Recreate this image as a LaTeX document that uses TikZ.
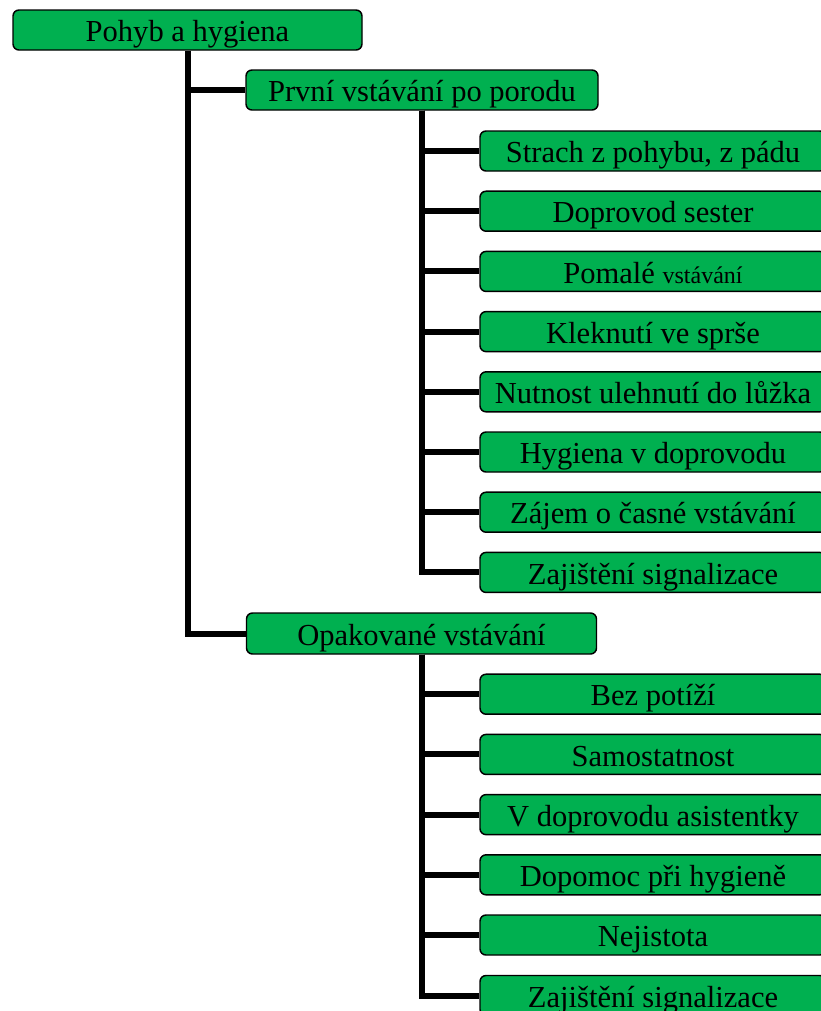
\documentclass[tikz,border=0pt]{standalone}
\usepackage{fontspec}
\setmainfont{Liberation Serif}
\definecolor{boxgreen}{HTML}{00B050}
\begin{document}
\begin{tikzpicture}[x=0.75pt,y=-0.75pt,
  box/.style={draw=black, line width=1.1pt, fill=boxgreen, rounded corners=4.5pt,
    minimum height=30pt, inner sep=0pt, text height=18pt, text depth=0.5pt,
    font=\fontsize{22.9}{27}\selectfont, text=black},
  conn/.style={draw=black, line width=4.5pt}]
\useasboundingbox (0,0) rectangle (821,1011);
\clip (0,0) rectangle (821,1011);
\node[box, minimum width=261.75pt] (root) at (187.5,30) {Pohyb a hygiena};
\node[box, minimum width=264pt] (p1) at (422,90) {První vstávání po porodu};
\node[box, minimum width=262.5pt, minimum height=30.75pt] (p2) at (421.5,633.5) {Opakované vstávání};
\tikzset{child/.style={box, minimum width=259.5pt}}
\node[child] (a1) at (653,151) {Strach z pohybu, z pádu};
\node[child] (a2) at (653,211.2) {Doprovod sester};
\node[child] (a3) at (653,271.4) {Pomalé {\fontsize{18}{20}\selectfont vstávání}};
\node[child] (a4) at (653,331.6) {Kleknutí ve sprše};
\node[child] (a5) at (653,391.8) {Nutnost ulehnutí do lůžka};
\node[child] (a6) at (653,452) {Hygiena v doprovodu};
\node[child] (a7) at (653,512.2) {Zájem o časné vstávání};
\node[child] (a8) at (653,572.4) {Zajištění signalizace};
\node[child] (b1) at (653,694.2) {Bez potíží};
\node[child] (b2) at (653,754.4) {Samostatnost};
\node[child] (b3) at (653,814.6) {V doprovodu asistentky};
\node[child] (b4) at (653,874.8) {Dopomoc při hygieně};
\node[child] (b5) at (653,935) {Nejistota};
\node[child] (b6) at (653,995.5) {Zajištění signalizace};
\draw[conn] ([xshift=0.5*0.75pt]root.south) |- (p1.west);
\draw[conn] ([xshift=0.5*0.75pt]root.south) |- (p2.west);
\foreach \c in {a1,a2,a3,a4,a5,a6,a7,a8}
  \draw[conn] (p1.south) |- (\c.west);
\foreach \c in {b1,b2,b3,b4,b5,b6}
  \draw[conn] (p2.south) |- (\c.west);
\end{tikzpicture}
\end{document}
